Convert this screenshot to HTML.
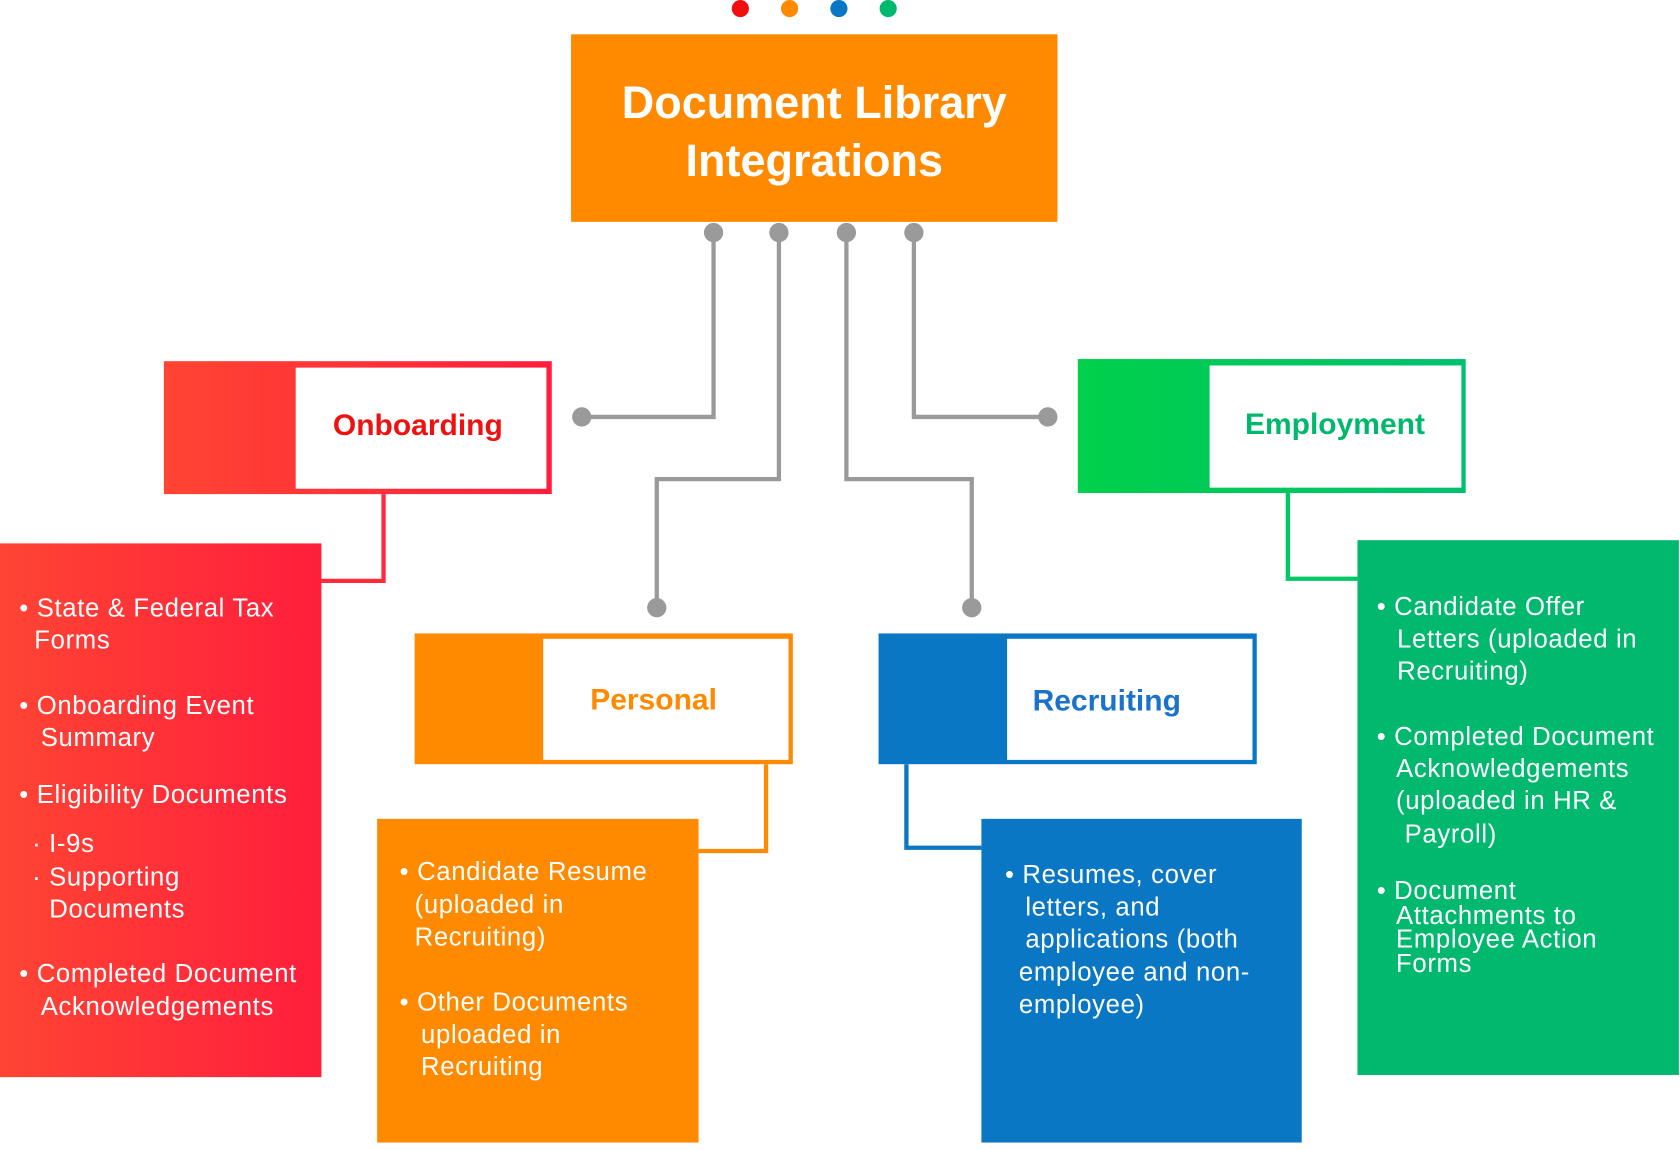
<!DOCTYPE html>
<html><head><meta charset="utf-8"><style>
html,body{margin:0;padding:0;background:#fff;width:1680px;height:1150px;overflow:hidden}
#c{position:absolute;left:0;top:0;width:1568px;height:1073px;transform:scale(1.0714,1.0718);transform-origin:0 0;font-family:"Liberation Sans",sans-serif}
.a{position:absolute}
.t{position:absolute;color:#fff;font-size:24px;letter-spacing:0.6px;line-height:28px;white-space:nowrap}
.h{position:absolute;font-weight:bold;font-size:28px;line-height:34px;white-space:nowrap;transform:translate(-50%,-50%)}
</style></head><body><div id="c">
<svg class="a" style="left:0;top:0" width="1568" height="1073">
<circle cx="691" cy="8" r="8" fill="#f01010"/><circle cx="737" cy="8" r="8" fill="#ff8a00"/><circle cx="783" cy="8" r="8" fill="#0a77c4"/><circle cx="829" cy="8" r="8" fill="#00b86e"/>
<g fill="none" stroke="#9a9a9a" stroke-width="4">
<polyline points="666,217 666,389 543,389"/>
<polyline points="727,217 727,447 613,447 613,567"/>
<polyline points="790,217 790,447 907,447 907,567"/>
<polyline points="853,217 853,389 978,389"/>
</g>
<g fill="#9a9a9a"><circle cx="666" cy="217" r="9"/><circle cx="727" cy="217" r="9"/><circle cx="790" cy="217" r="9"/><circle cx="853" cy="217" r="9"/><circle cx="543" cy="389" r="9"/><circle cx="613" cy="567" r="9"/><circle cx="907" cy="567" r="9"/><circle cx="978" cy="389" r="9"/></g>
<g fill="none" stroke-width="4">
<polyline stroke="#ff2a3a" points="358,461 358,542 300,542"/>
<polyline stroke="#ff8a00" points="715,713 715,794 652,794"/>
<polyline stroke="#0a77c4" points="846,713 846,791 916,791"/>
<polyline stroke="#00c864" points="1202,460 1202,540 1267,540"/>
</g>
<defs>
<linearGradient id="gr" x1="0" x2="1"><stop offset="0" stop-color="#ff4433"/><stop offset="1" stop-color="#ff1e3c"/></linearGradient>
<linearGradient id="gg" x1="0" x2="1"><stop offset="0" stop-color="#00d04a"/><stop offset="1" stop-color="#00c070"/></linearGradient>
</defs>
<rect x="533" y="32" width="454" height="175" fill="#ff8a00"/>
<rect x="153" y="337" width="362" height="124" fill="url(#gr)"/><rect x="276" y="343" width="234" height="113" fill="#fff"/>
<rect x="0" y="507" width="300" height="498" fill="url(#gr)"/>
<rect x="387" y="591" width="353" height="122" fill="#ff8a00"/><rect x="507" y="596" width="229" height="113" fill="#fff"/>
<rect x="352" y="764" width="300" height="302" fill="#ff8a00"/>
<rect x="820" y="591" width="353" height="122" fill="#0a77c4"/><rect x="940" y="596" width="229" height="113" fill="#fff"/>
<rect x="916" y="764" width="299" height="302" fill="#0a77c4"/>
<rect x="1006" y="335" width="362" height="125" fill="url(#gg)"/><rect x="1129" y="341" width="235" height="114" fill="#fff"/>
<rect x="1267" y="504" width="300" height="499" fill="#00b86e"/>
</svg>
<div class="h" style="left:760px;top:123px;color:#fff;font-size:42px;line-height:54px;text-align:center">Document Library<br>Integrations</div>
<div class="h" style="left:390px;top:397px;color:#ee1111">Onboarding</div>
<div class="h" style="left:610px;top:653px;color:#ff8a00">Personal</div>
<div class="h" style="left:1033px;top:654px;color:#1a73c8">Recruiting</div>
<div class="h" style="left:1246px;top:396px;color:#00b86b">Employment</div>

<div class="t" style="left:18px;top:554px">• State &amp; Federal Tax</div>
<div class="t" style="left:32px;top:584px">Forms</div>
<div class="t" style="left:18px;top:645px">• Onboarding Event</div>
<div class="t" style="left:38px;top:675px">Summary</div>
<div class="t" style="left:18px;top:728px">• Eligibility Documents</div>
<div class="t" style="left:30px;top:774px">· I-9s</div>
<div class="t" style="left:30px;top:805px">· Supporting</div>
<div class="t" style="left:46px;top:835px">Documents</div>
<div class="t" style="left:18px;top:895px">• Completed Document</div>
<div class="t" style="left:38px;top:926px">Acknowledgements</div>

<div class="t" style="left:373px;top:800px">• Candidate Resume</div>
<div class="t" style="left:387px;top:831px">(uploaded in</div>
<div class="t" style="left:387px;top:861px">Recruiting)</div>
<div class="t" style="left:373px;top:922px">• Other Documents</div>
<div class="t" style="left:393px;top:952px">uploaded in</div>
<div class="t" style="left:393px;top:982px">Recruiting</div>

<div class="t" style="left:938px;top:803px">• Resumes, cover</div>
<div class="t" style="left:957px;top:833px">letters, and</div>
<div class="t" style="left:957px;top:863px">applications (both</div>
<div class="t" style="left:951px;top:894px">employee and non-</div>
<div class="t" style="left:951px;top:924px">employee)</div>

<div class="t" style="left:1285px;top:553px">• Candidate Offer</div>
<div class="t" style="left:1304px;top:583px">Letters (uploaded in</div>
<div class="t" style="left:1304px;top:613px">Recruiting)</div>
<div class="t" style="left:1285px;top:674px">• Completed Document</div>
<div class="t" style="left:1303px;top:704px">Acknowledgements</div>
<div class="t" style="left:1303px;top:734px">(uploaded in HR &amp;</div>
<div class="t" style="left:1311px;top:765px">Payroll)</div>
<div class="t" style="left:1285px;top:818px">• Document</div>
<div class="t" style="left:1303px;top:841px">Attachments to</div>
<div class="t" style="left:1303px;top:863px">Employee Action</div>
<div class="t" style="left:1303px;top:886px">Forms</div>
</div></body></html>
